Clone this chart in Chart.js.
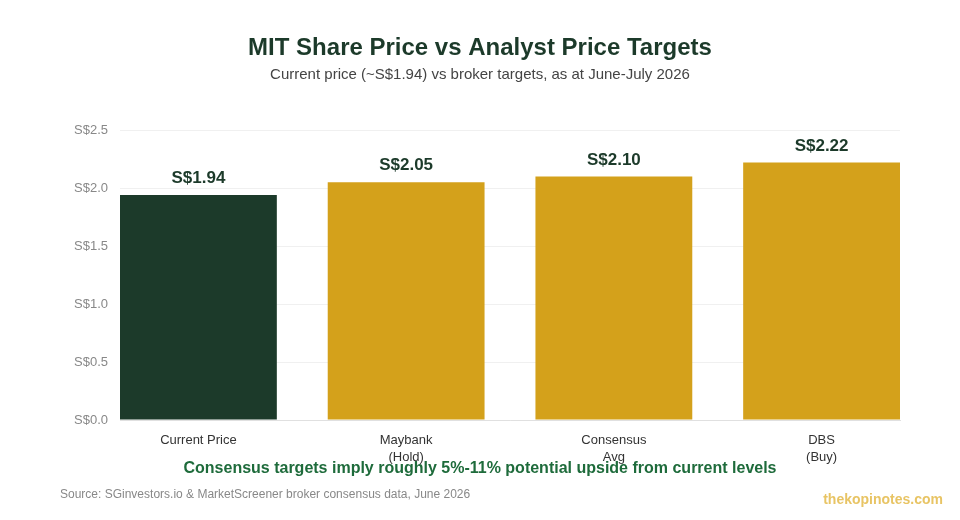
<!DOCTYPE html>
<html>
<head>
<meta charset="utf-8">
<script src="https://cdn.jsdelivr.net/npm/chart.js@4"></script>
<style>
  html, body { margin: 0; padding: 0; background: #fff; }
  #wrap { width: 960px; height: 520px; position: relative; }
</style>
</head>
<body>
<div id="wrap"><canvas id="chart"></canvas></div>
<script>
const labels = ["Current Price", ["Maybank", "(Hold)"], ["Consensus", "Avg"], ["DBS", "(Buy)"]];
const prices = [1.94, 2.05, 2.10, 2.22];
const barColors = ["#1c3a2a", "#d4a11b", "#d4a11b", "#d4a11b"];
const yTicks = [0, 0.5, 1.0, 1.5, 2.0, 2.5];

const FONT = "'Liberation Sans', Arial, Helvetica, sans-serif";

// text around the plot + value labels over bars
const extras = {
  id: "extras",
  afterDatasetsDraw(chart) {
    const ctx = chart.ctx;
    const meta = chart.getDatasetMeta(0);
    ctx.save();
    ctx.textAlign = "center";
    ctx.textBaseline = "bottom";
    ctx.fillStyle = "#1c3a2a";
    ctx.font = "bold 17px " + FONT;
    meta.data.forEach((bar, i) => {
      ctx.fillText("S$" + prices[i].toFixed(2), bar.x, bar.y - 8);
    });
    ctx.restore();
  },
  afterDraw(chart) {
    const ctx = chart.ctx;
    ctx.save();
    ctx.textBaseline = "middle";
    ctx.textAlign = "center";
    ctx.fillStyle = "#1c3a2a";
    ctx.font = "bold 24px " + FONT;
    ctx.fillText("MIT Share Price vs Analyst Price Targets", 480, 48);
    ctx.fillStyle = "#444";
    ctx.font = "15px " + FONT;
    ctx.fillText("Current price (~S$1.94) vs broker targets, as at June-July 2026", 480, 75);
    ctx.fillStyle = "#1e6b3b";
    ctx.font = "bold 16px " + FONT;
    ctx.fillText("Consensus targets imply roughly 5%-11% potential upside from current levels", 480, 469);
    ctx.textAlign = "left";
    ctx.fillStyle = "#888";
    ctx.font = "12px " + FONT;
    ctx.fillText("Source: SGinvestors.io & MarketScreener broker consensus data, June 2026", 60, 495);
    ctx.textAlign = "right";
    ctx.fillStyle = "#e8c464";
    ctx.font = "bold 14px " + FONT;
    ctx.fillText("thekopinotes.com", 943, 500);
    ctx.restore();
  }
};

new Chart(document.getElementById("chart"), {
  type: "bar",
  data: {
    datasets: [{
      data: prices.map((v, i) => ({ x: i, y: v })),
      backgroundColor: barColors,
      categoryPercentage: 1,
      barPercentage: 0.755
    }]
  },
  options: {
    responsive: true,
    maintainAspectRatio: false,
    animation: false,
    layout: { padding: { left: 0, right: 60, top: 130, bottom: 0 } },
    plugins: { legend: { display: false }, tooltip: { enabled: false } },
    scales: {
      x: {
        type: "linear",
        offset: false,
        min: -0.3775,
        max: 3.3775,
        grid: { display: false },
        border: { display: true, color: "#e0e0e0" },
        afterBuildTicks: s => { s.ticks = labels.map((l, i) => ({ value: i })); },
        afterFit: s => { s.height = 100; },
        ticks: {
          autoSkip: false,
          maxRotation: 0,
          padding: 4,
          color: "#333",
          font: { family: FONT, size: 13, lineHeight: 1.3 },
          callback: v => labels[v]
        }
      },
      y: {
        min: 0,
        max: 2.5,
        afterBuildTicks: s => { s.ticks = yTicks.map(v => ({ value: v })); },
        afterFit: s => { s.width = 120; },
        border: { display: false },
        grid: { color: "#f0f0f0", drawTicks: false },
        ticks: {
          padding: 12,
          color: "#888",
          font: { family: FONT, size: 13 },
          callback: v => "S$" + v.toFixed(1)
        }
      }
    }
  },
  plugins: [extras]
});
</script>
</body>
</html>
